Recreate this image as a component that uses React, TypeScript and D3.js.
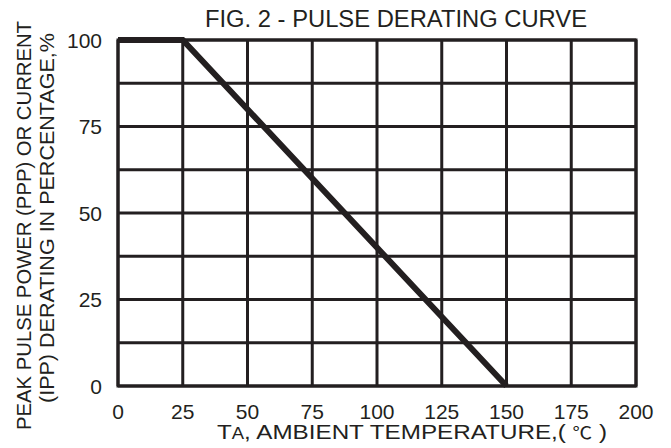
import React, { useEffect, useRef } from 'react';
import * as d3 from 'd3';

// Derating curve points (temperature °C, % of rating)
const curveTemps = [0, 25, 150];
const curvePercent = [100, 100, 0];

const xTicks = [0, 25, 50, 75, 100, 125, 150, 175, 200];
const yTicks = [0, 25, 50, 75, 100];
const yGrid = [0, 12.5, 25, 37.5, 50, 62.5, 75, 87.5, 100];

const title = 'FIG. 2 - PULSE DERATING CURVE';
const yLabel1 = 'PEAK PULSE POWER (PPP) OR CURRENT';
const yLabel2 = '(IPP) DERATING IN PERCENTAGE,%';

const ink = '#231f20';
const font = '"Liberation Sans", Arial, Helvetica, sans-serif';

const App: React.FC = () => {
  const svgRef = useRef<SVGSVGElement>(null);

  useEffect(() => {
    const svg = d3.select(svgRef.current);
    svg.selectAll('*').remove();

    const left = 118, right = 636, top = 40, bottom = 386;

    const x = d3.scaleLinear().domain([0, 200]).range([left, right]);
    const y = d3.scaleLinear().domain([0, 100]).range([bottom, top]);

    const g = svg.append('g');

    // grid
    g.selectAll('.vgrid')
      .data(xTicks)
      .enter()
      .append('line')
      .attr('x1', d => x(d))
      .attr('x2', d => x(d))
      .attr('y1', top)
      .attr('y2', bottom)
      .attr('stroke', ink)
      .attr('stroke-width', 3);

    g.selectAll('.hgrid')
      .data(yGrid)
      .enter()
      .append('line')
      .attr('x1', left)
      .attr('x2', right)
      .attr('y1', d => y(d))
      .attr('y2', d => y(d))
      .attr('stroke', ink)
      .attr('stroke-width', 3);

    g.append('rect')
      .attr('x', left)
      .attr('y', top)
      .attr('width', right - left)
      .attr('height', bottom - top)
      .attr('fill', 'none')
      .attr('stroke', ink)
      .attr('stroke-width', 3);

    // curve
    const pts = curveTemps.map((t, i) => [t, curvePercent[i]] as [number, number]);
    const line = d3.line<[number, number]>()
      .x(d => x(d[0]))
      .y(d => y(d[1]));

    g.append('path')
      .attr('d', line(pts) || '')
      .attr('fill', 'none')
      .attr('stroke', ink)
      .attr('stroke-width', 6)
      .attr('stroke-linejoin', 'miter');

    // tick labels
    g.selectAll('.xlab')
      .data(xTicks)
      .enter()
      .append('text')
      .attr('x', d => x(d))
      .attr('y', 419)
      .attr('text-anchor', 'middle')
      .style('font-family', font)
      .style('font-size', '21px')
      .attr('fill', ink)
      .text(d => String(d));

    g.selectAll('.ylab')
      .data(yTicks)
      .enter()
      .append('text')
      .attr('x', 102)
      .attr('y', d => y(d) + 7.5)
      .attr('text-anchor', 'end')
      .style('font-family', font)
      .style('font-size', '21px')
      .attr('fill', ink)
      .text(d => String(d));

    // title
    svg.append('text')
      .attr('x', 205)
      .attr('y', 27)
      .attr('textLength', 382)
      .attr('lengthAdjust', 'spacingAndGlyphs')
      .style('font-family', font)
      .style('font-size', '23.5px')
      .attr('fill', ink)
      .text(title);

    // y axis title (two lines)
    svg.append('text')
      .attr('transform', 'translate(31,430) rotate(-90)')
      .attr('textLength', 409)
      .attr('lengthAdjust', 'spacingAndGlyphs')
      .style('font-family', font)
      .style('font-size', '21px')
      .attr('fill', ink)
      .text(yLabel1);

    svg.append('text')
      .attr('transform', 'translate(54,403) rotate(-90)')
      .attr('textLength', 370)
      .attr('lengthAdjust', 'spacingAndGlyphs')
      .style('font-family', font)
      .style('font-size', '21px')
      .attr('fill', ink)
      .text(yLabel2);

    // x axis title
    const xt = svg.append('text')
      .attr('x', 217)
      .attr('y', 439)
      .attr('textLength', 390)
      .attr('lengthAdjust', 'spacingAndGlyphs')
      .style('font-family', font)
      .style('font-size', '21px')
      .attr('fill', ink);
    xt.append('tspan').text('T');
    xt.append('tspan').style('font-size', '16px').text('A');
    xt.append('tspan').text(', AMBIENT TEMPERATURE,(  ');
    xt.append('tspan')
      .style('font-family', '"Noto Sans CJK SC", "DejaVu Sans", sans-serif')
      .style('font-size', '17px')
      .text('℃');
    xt.append('tspan').text('  )');
  }, []);

  return (
    <svg
      ref={svgRef}
      width={671}
      height={448}
      style={{ position: 'absolute', left: 0, top: 0, background: '#fff' }}
    />
  );
};

export default App;
